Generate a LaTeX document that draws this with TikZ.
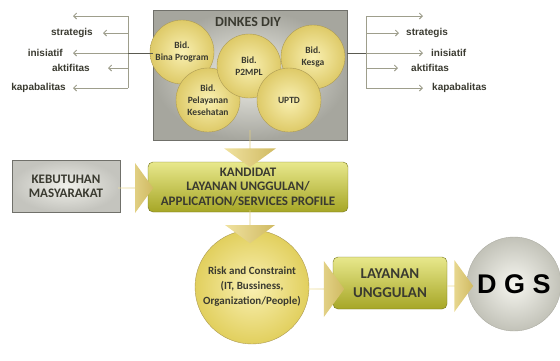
\documentclass[tikz,border=0pt]{standalone}
\usepackage{fontspec}
\setmainfont{Carlito}
\newfontfamily\arialf{Liberation Sans}
\usetikzlibrary{shapes,shapes.arrows,arrows.meta,positioning,calc}
\definecolor{ballin}{RGB}{249,240,178}
\definecolor{ballout}{RGB}{222,202,104}
\definecolor{ballline}{RGB}{172,154,84}
\definecolor{boxin}{RGB}{240,240,234}
\definecolor{boxout}{RGB}{166,166,158}
\definecolor{boxline}{RGB}{112,112,106}
\definecolor{kebout}{RGB}{196,196,190}
\definecolor{kantop}{RGB}{232,232,140}
\definecolor{kanbot}{RGB}{166,166,38}
\definecolor{kanline}{RGB}{118,118,30}
\definecolor{arrlite}{RGB}{240,226,160}
\definecolor{arrdark}{RGB}{208,186,98}
\definecolor{linegray}{RGB}{158,158,140}
\definecolor{linedark}{RGB}{90,90,80}
\definecolor{txtdark}{RGB}{58,58,48}
\definecolor{dgsin}{RGB}{246,246,240}
\definecolor{dgsout}{RGB}{194,194,184}
\definecolor{dgsline}{RGB}{172,172,162}

\begin{document}
\begin{tikzpicture}[x=1pt,y=-1pt,>={Straight Barb[length=3pt,width=6pt]}]
\tikzstyle{bid}=[circle,draw=ballline,inner color=ballin,outer color=ballout,minimum size=64,inner sep=0,align=center,text=txtdark,font=\bfseries\fontsize{9.5}{12}\selectfont]
\tikzstyle{panel}=[rectangle,draw=boxline,inner color=boxin,outer color=boxout,align=center,text=txtdark]
\tikzstyle{olive}=[rectangle,rounded corners=5,draw=kanline,top color=kantop,bottom color=kanbot,align=center,text=txtdark]
\tikzstyle{barr}=[single arrow,single arrow tip angle=108,inner sep=0,outer sep=0,left color=arrlite,right color=arrdark]
\tikzstyle{lbl}=[inner sep=1pt,text=txtdark,font=\arialf\bfseries\fontsize{10}{12}\selectfont]
\tikzstyle{tline}=[draw=linegray,line width=0.9pt]
\useasboundingbox (0,0) rectangle (560,360);
\node[panel,minimum width=194,minimum height=130] (dinkes) at (250,75) {};
\node[text=txtdark,font=\bfseries\fontsize{14}{16}\selectfont] (dinkestitle) at (248,22) {DINKES DIY};
\node[bid] (bina) at (182,52) {Bid.\\Bina Program};
\node[bid] (kesga) at (313,57) {Bid.\\Kesga};
\node[bid] (pelayanan) at (208,100) {Bid.\\Pelayanan\\Kesehatan};
\node[bid] (p2mpl) at (249,66) {Bid.\\P2MPL};
\node[bid] (uptd) at (289,100) {UPTD};
\coordinate (lb) at (128,53);
\coordinate (lt1) at (73,16);
\coordinate (lt2) at (103,33);
\coordinate (lt3) at (73,53);
\coordinate (lt4) at (108,68);
\coordinate (lt5) at (73,88);
\coordinate (rb) at (366,53);
\coordinate (rt1) at (423,16);
\coordinate (rt2) at (399,33);
\coordinate (rt3) at (423,53);
\coordinate (rt4) at (398,68);
\coordinate (rt5) at (423,88);
\draw[tline] (lb |- lt1) -- (lb |- lt5);
\draw[tline] (rb |- rt1) -- (rb |- rt5);
\foreach \t in {lt1,lt2,lt3,lt4,lt5} \draw[tline,->] (lb |- \t) -- (\t);
\foreach \t in {rt1,rt2,rt3,rt4,rt5} \draw[tline,->] (rb |- \t) -- (\t);
\draw[tline,draw=linedark] (dinkes.west |- lb) -- (lb);
\draw[tline,draw=linedark] (dinkes.east |- rb) -- (rb);
\node[lbl,left=9pt of lt2] (lstrat) {strategis};
\node[lbl,left=9pt of lt3] (linis) {inisiatif};
\node[lbl,left=17pt of lt4] (laktif) {aktifitas};
\node[lbl,left=6pt of lt5] (lkapa) {kapabalitas};
\node[lbl,right=6pt of rt2] (rstrat) {strategis};
\node[lbl,right=7pt of rt3] (rinis) {inisiatif};
\node[lbl,right=12pt of rt4] (raktif) {aktifitas};
\node[lbl,right=8pt of rt5] (rkapa) {kapabalitas};
\node[panel,outer color=kebout,minimum width=108,minimum height=52,font=\bfseries\fontsize{13}{14}\selectfont] (kebutuhan) at (66,186) {KEBUTUHAN\\MASYARAKAT};
\node[olive,minimum width=200,minimum height=50,font=\bfseries\fontsize{13}{14.5}\selectfont] (kandidat) at (248,187) {KANDIDAT\\LAYANAN UNGGULAN/\\APPLICATION/SERVICES PROFILE};
\node[bid,minimum size=114,inner color=ballin,outer color=ballout!90!yellow,font=\bfseries\fontsize{11}{15}\selectfont] (risk) at (252,287) {Risk and Constraint\\(IT, Bussiness,\\Organization/People)};
\node[olive,minimum width=114,minimum height=52,font=\bfseries\fontsize{15}{19}\selectfont] (layanan) at (390,283) {LAYANAN\\UNGGULAN};
\node[circle,draw=dgsline,inner color=dgsin,outer color=dgsout,minimum size=94,font=\arialf\bfseries\fontsize{27}{30}\selectfont] (dgs) at (514,284) {D G S};
\node[barr,rotate=-90,anchor=tail,minimum height=37,minimum width=52,single arrow head extend=13.5] (down1) at ($(dinkes.south)+(0,-10)$) {};
\node[barr,anchor=tail,minimum height=35,minimum width=50,single arrow head extend=10] (right1) at ($(kebutuhan.east)+(-2,2)$) {};
\node[barr,rotate=-90,anchor=tail,minimum height=33,minimum width=50,single arrow head extend=12] (down2) at ($(kandidat.south)+(2,-2)$) {};
\node[barr,anchor=tail,minimum height=36,minimum width=56,single arrow head extend=13] (right2) at ($(risk.east)+(-1,2)$) {};
\node[barr,anchor=tail,minimum height=26,minimum width=52,single arrow head extend=12] (right3) at ($(layanan.east)+(0,3)$) {};
\end{tikzpicture}
\end{document}
